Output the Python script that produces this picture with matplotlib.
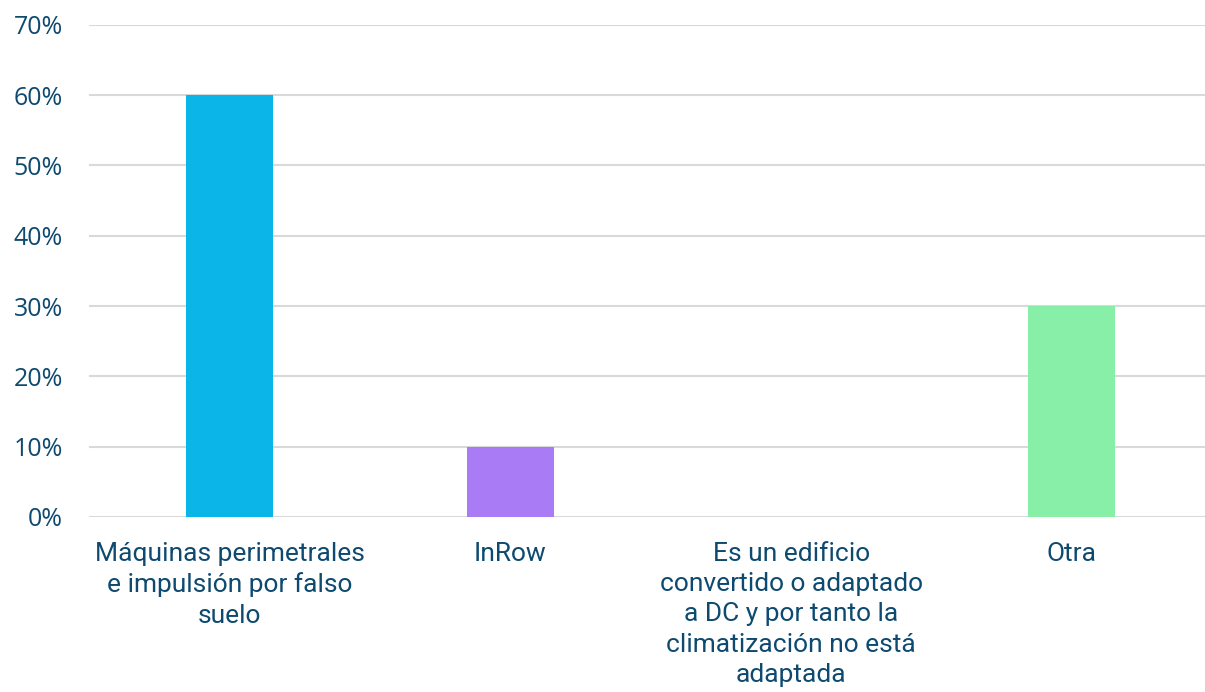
import matplotlib.pyplot as plt
from matplotlib.ticker import FuncFormatter

categorias = ['Máquinas perimetrales\ne impulsión por falso\nsuelo',
              'InRow',
              'Es un edificio\nconvertido o adaptado\na DC y por tanto la\nclimatización no está\nadaptada',
              'Otra']
valores = [60, 10, 0, 30]
colores = ['#0BB5E7', '#A97CF5', '#0BB5E7', '#88EFA9']

texto = '#0E4A70'

fig = plt.figure(figsize=(12.05, 6.92), dpi=100)
ax = fig.add_axes([0.074, 0.253, 0.932, 0.711])

x = range(len(categorias))
ax.bar(x, valores, width=0.31, color=colores, zorder=3)

ax.set_ylim(0, 70)
ax.set_xlim(-0.5, 3.5)
ax.set_yticks(range(0, 71, 10))
ax.yaxis.set_major_formatter(FuncFormatter(lambda v, p: f'{v:.0f}%'))
ax.grid(axis='y', color='#D9D9D9', linewidth=1.5, zorder=0)
for s in ax.spines.values():
    s.set_visible(False)
ax.tick_params(length=0)
ax.tick_params(axis='y', pad=19)
ax.tick_params(axis='x', pad=18)

ax.set_xticks(list(x))
ax.set_xticklabels(categorias, fontsize=19, color=texto, family='Roboto',
                   linespacing=1.33, va='top')
for lbl in ax.get_yticklabels():
    lbl.set_fontsize(18)
    lbl.set_color(texto)
    lbl.set_family('Open Sans')

fig.savefig('out.png', dpi=100)
